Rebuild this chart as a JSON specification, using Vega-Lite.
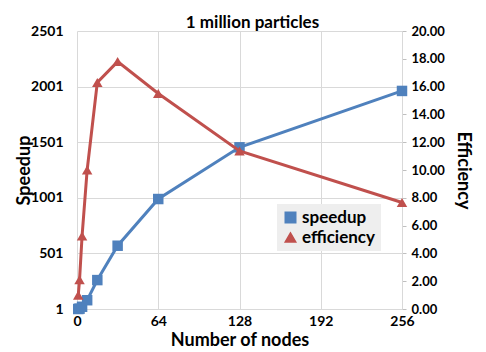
{
  "$schema": "https://vega.github.io/schema/vega-lite/v6.json",
  "autosize": "none",
  "width": 325,
  "height": 278,
  "padding": {"left": 77, "top": 31, "right": 84, "bottom": 43},
  "background": "white",
  "config": {
    "font": "Lato",
    "view": {"stroke": null},
    "axis": {
      "labelFont": "Lato",
      "labelFontWeight": "bold",
      "labelFontSize": 14,
      "labelColor": "#000000",
      "titleFont": "Lato",
      "titleFontWeight": "bold",
      "titleFontSize": 18,
      "titleColor": "#000000",
      "gridColor": "#d9d9d9",
      "domainColor": "#d9d9d9",
      "tickColor": "#bfbfbf"
    }
  },
  "title": {
    "text": "1 million particles",
    "font": "Lato",
    "fontSize": 17,
    "fontWeight": "bold",
    "color": "#000000",
    "anchor": "middle",
    "offset": -8,
    "dx": 13
  },
  "data": {
    "values": [
      {"nodes": 1, "series": "speedup", "value": 1},
      {"nodes": 2, "series": "speedup", "value": 4.2},
      {"nodes": 4, "series": "speedup", "value": 21},
      {"nodes": 8, "series": "speedup", "value": 80},
      {"nodes": 16, "series": "speedup", "value": 261},
      {"nodes": 32, "series": "speedup", "value": 570},
      {"nodes": 64, "series": "speedup", "value": 990},
      {"nodes": 128, "series": "speedup", "value": 1455},
      {"nodes": 256, "series": "speedup", "value": 1962},
      {"nodes": 1, "series": "efficiency", "value": 1.0},
      {"nodes": 2, "series": "efficiency", "value": 2.1},
      {"nodes": 4, "series": "efficiency", "value": 5.25},
      {"nodes": 8, "series": "efficiency", "value": 10.0},
      {"nodes": 16, "series": "efficiency", "value": 16.3},
      {"nodes": 32, "series": "efficiency", "value": 17.8},
      {"nodes": 64, "series": "efficiency", "value": 15.5},
      {"nodes": 128, "series": "efficiency", "value": 11.37},
      {"nodes": 256, "series": "efficiency", "value": 7.66}
    ]
  },
  "encoding": {
    "x": {
      "field": "nodes",
      "type": "quantitative",
      "scale": {"domain": [0, 256], "nice": false},
      "axis": {
        "values": [0, 64, 128, 192, 256],
        "title": "Number of nodes",
        "ticks": false,
        "domain": false,
        "labelFlush": false,
        "labelPadding": 5,
        "titlePadding": 3
      }
    },
    "color": {
      "field": "series",
      "type": "nominal",
      "scale": {"domain": ["speedup", "efficiency"], "range": ["#4F81BD", "#C0504D"]},
      "legend": {
        "title": null,
        "orient": "none",
        "legendX": 200,
        "legendY": 173,
        "fillColor": "#eeeeee",
        "padding": 5,
        "labelFont": "Lato",
        "labelFontSize": 17,
        "labelFontWeight": "bold",
        "labelColor": "#000000",
        "symbolSize": 110,
        "rowPadding": 2,
        "labelOffset": 3
      }
    },
    "shape": {
      "field": "series",
      "type": "nominal",
      "scale": {"domain": ["speedup", "efficiency"], "range": ["square", "triangle-up"]},
      "legend": null
    }
  },
  "layer": [
    {
      "transform": [{"filter": "datum.series === 'speedup'"}],
      "mark": {"type": "line", "strokeWidth": 3, "point": {"filled": true, "size": 110}},
      "encoding": {
        "y": {
          "field": "value",
          "type": "quantitative",
          "scale": {"domain": [1, 2501], "nice": false, "zero": false},
          "axis": {
            "orient": "left",
            "values": [1, 501, 1001, 1501, 2001, 2501],
            "format": "d",
            "title": "Speedup",
            "ticks": false,
            "domain": false,
            "labelPadding": 14,
            "titlePadding": -3
          }
        }
      }
    },
    {
      "transform": [{"filter": "datum.series === 'efficiency'"}],
      "mark": {"type": "line", "strokeWidth": 3, "point": {"filled": true, "size": 110}},
      "encoding": {
        "y": {
          "field": "value",
          "type": "quantitative",
          "scale": {"domain": [0, 20], "nice": false},
          "axis": {
            "orient": "right",
            "values": [0, 2, 4, 6, 8, 10, 12, 14, 16, 18, 20],
            "format": ".2f",
            "labelFontSize": 13,
            "title": "Efficiency",
            "grid": false,
            "ticks": true,
            "tickSize": 4,
            "domain": true,
            "labelPadding": 5,
            "titlePadding": 9
          }
        }
      }
    }
  ],
  "resolve": {"scale": {"y": "independent"}}
}
